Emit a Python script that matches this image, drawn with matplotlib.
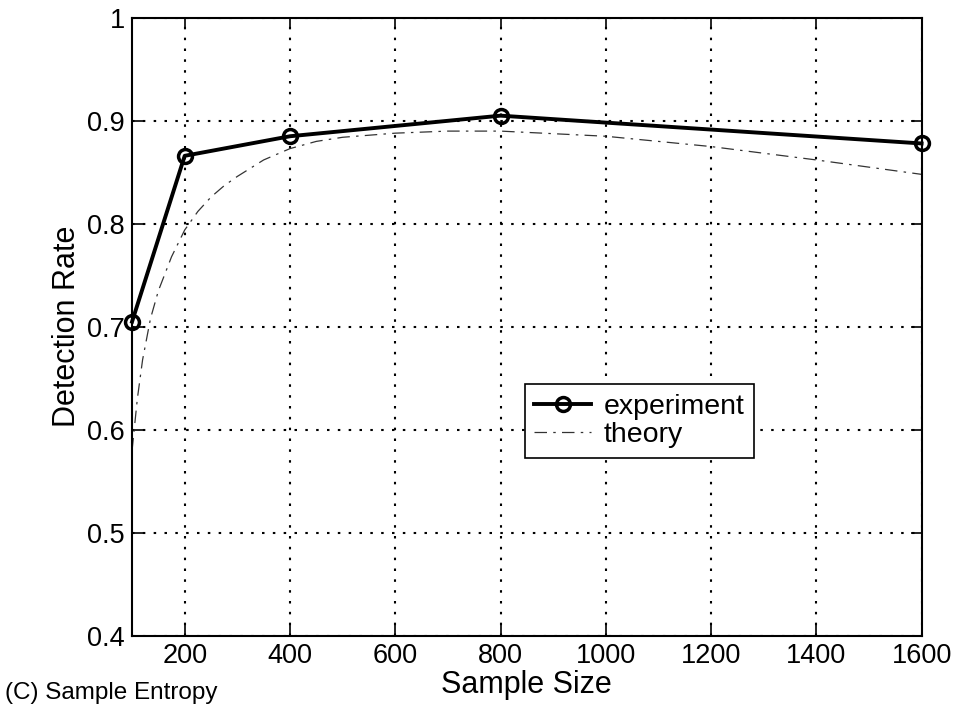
import numpy as np
import matplotlib.pyplot as plt

plt.rcParams['font.family'] = ['Liberation Sans', 'DejaVu Sans']

# data
sample_size = [100, 200, 400, 800, 1600]
experiment = [0.705, 0.866, 0.885, 0.905, 0.878]

theory_x = [100, 110, 120, 135, 150, 175, 200, 225, 250, 275, 300, 350, 400, 450, 500, 600, 700, 800, 1000, 1200, 1400, 1600]
theory_y = [0.58, 0.63, 0.668, 0.708, 0.735, 0.768, 0.794, 0.812, 0.826, 0.837, 0.846, 0.862, 0.873, 0.880, 0.884, 0.888, 0.890, 0.890, 0.885, 0.875, 0.862, 0.848]

xticks = [200, 400, 600, 800, 1000, 1200, 1400, 1600]
yticks = [0.4, 0.5, 0.6, 0.7, 0.8, 0.9, 1.0]
ytick_labels = ['0.4', '0.5', '0.6', '0.7', '0.8', '0.9', '1']

fig = plt.figure(figsize=(9.57, 7.12), dpi=100)
ax = fig.add_axes([0.138, 0.107, 0.825, 0.868])

ax.plot(sample_size, experiment, '-o', color='black', lw=2.8, markersize=10,
        markerfacecolor='none', markeredgewidth=2.5, label='experiment', zorder=3,
        clip_on=False)
ax.plot(theory_x, theory_y, color='#333333', lw=0.9, dashes=(10, 5, 2, 5),
        label='theory', zorder=2)

ax.set_xlim(100, 1600)
ax.set_ylim(0.4, 1.0)
ax.set_xticks(xticks)
ax.set_yticks(yticks)
ax.set_yticklabels(ytick_labels)
ax.tick_params(direction='in', length=8, width=1.2, top=True, right=True, labelsize=19.5, pad=5)
ax.tick_params(axis='x', pad=5)
ax.grid(True, linestyle=(0, (1.2, 4)), color='black', lw=1.5)
for s in ax.spines.values():
    s.set_linewidth(1.5)

ax.set_xlabel('Sample Size', fontsize=22, labelpad=1)
ax.set_ylabel('Detection Rate', fontsize=22, labelpad=4)

leg = ax.legend(loc='lower left', bbox_to_anchor=(0.4975, 0.288), borderaxespad=0,
                fontsize=20.5, frameon=True, fancybox=False, edgecolor='black',
                framealpha=1, handlelength=2.0, borderpad=0.33, labelspacing=0.1,
                handletextpad=0.45)
leg.get_frame().set_linewidth(1.2)

fig.text(0.005, 0.018, '(C) Sample Entropy', fontsize=17.5)

fig.savefig('out.png', dpi=100)
